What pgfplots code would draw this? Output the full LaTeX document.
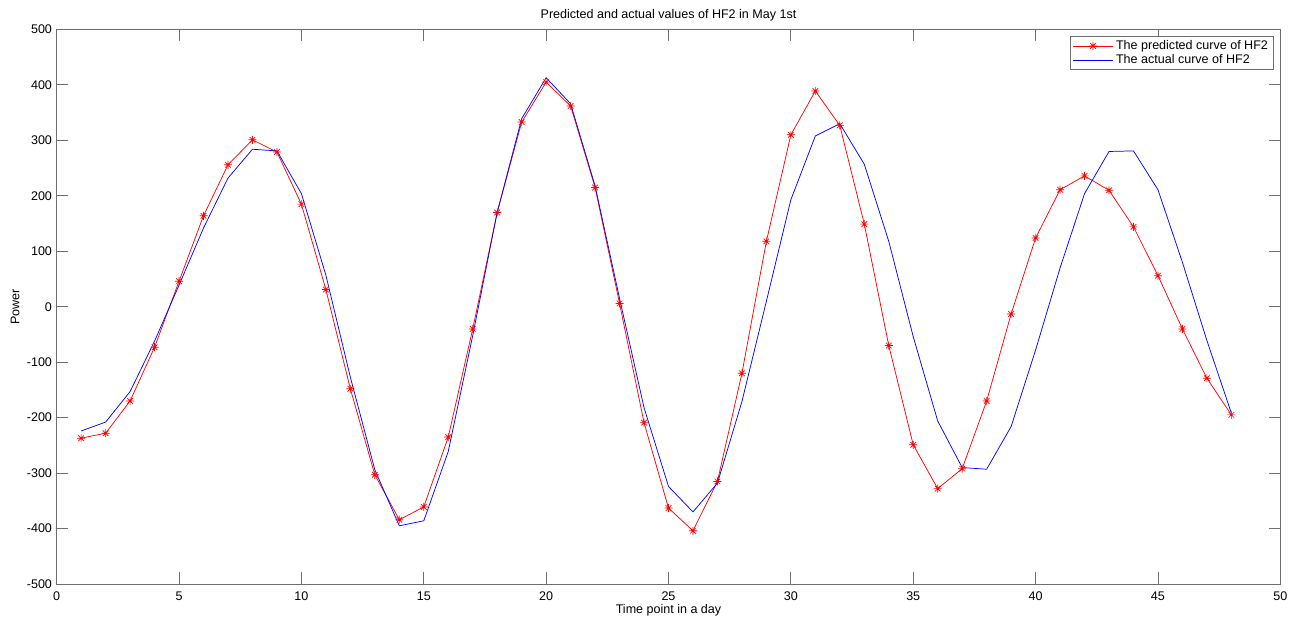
\documentclass[border=0pt]{standalone}
\usepackage{fontspec}
\setmainfont{Liberation Sans}
\usepackage{pgfplots}
\pgfplotsset{compat=1.18}
\definecolor{axgray}{RGB}{110,110,110}
\newcommand{\mfont}{\fontsize{9.4}{11.3}\selectfont}
% MATLAB-like asterisk: a plus and a cross on top of each other
\pgfdeclareplotmark{mstar}{%
  \pgfpathmoveto{\pgfqpoint{-\pgfplotmarksize}{0pt}}\pgfpathlineto{\pgfqpoint{\pgfplotmarksize}{0pt}}%
  \pgfpathmoveto{\pgfqpoint{0pt}{-\pgfplotmarksize}}\pgfpathlineto{\pgfqpoint{0pt}{\pgfplotmarksize}}%
  \pgfpathmoveto{\pgfqpoint{-0.7\pgfplotmarksize}{-0.7\pgfplotmarksize}}\pgfpathlineto{\pgfqpoint{0.7\pgfplotmarksize}{0.7\pgfplotmarksize}}%
  \pgfpathmoveto{\pgfqpoint{-0.7\pgfplotmarksize}{0.7\pgfplotmarksize}}\pgfpathlineto{\pgfqpoint{0.7\pgfplotmarksize}{-0.7\pgfplotmarksize}}%
  \pgfusepathqstroke}
\begin{document}
\begin{tikzpicture}
\useasboundingbox (-42.5pt,-27pt) rectangle (930.2pt,438pt);
\begin{axis}[
  at={(0,0)}, anchor=south west,
  scale only axis,
  width=917.7pt, height=415.9pt,
  xmin=0, xmax=50, ymin=-500, ymax=500,
  xtick={0,5,...,50}, ytick={-500,-400,...,500},
  tick align=inside,
  major tick length=8.8pt,
  axis line style={axgray, line width=0.7pt},
  every tick/.style={axgray, line width=0.7pt},
  /pgf/number format/assume math mode=true,
  tick label style={font=\mfont},
  xticklabel style={yshift=-2pt},
  every axis title shift=0pt,
  title={Predicted and actual values of HF2 in May 1st},
  title style={font=\mfont, at={(axis description cs:0.5,1.026)}, anchor=center},
  xlabel={Time point in a day},
  xlabel style={font=\mfont, at={(axis description cs:0.5,-0.047)}, anchor=center},
  ylabel={Power},
  ylabel style={font=\mfont, at={(axis description cs:-0.034,0.5)}, anchor=center},
  legend style={font=\mfont, at={(axis description cs:1,1)}, anchor=north east,
    xshift=-5pt, yshift=-4.9pt, draw=axgray, line width=0.6pt,
    inner xsep=2pt, inner ysep=1pt, row sep=-1.5pt,
    legend cell align=left},
  legend image code/.code={%
    \draw[mark repeat=2, mark phase=2, #1] plot coordinates {(0pt,0pt) (15pt,0pt) (30pt,0pt)};},
]
\addplot[color=red, line width=0.55pt, mark=mstar, mark size=3pt, mark options={line width=0.5pt}]
  coordinates {
  (1,-237) (2,-228) (3,-170) (4,-73) (5,46) (6,164) (7,256) (8,301) (9,279) (10,185)
  (11,31) (12,-148) (13,-303) (14,-384) (15,-361) (16,-235) (17,-40) (18,170) (19,333) (20,405)
  (21,362) (22,215) (23,6) (24,-209) (25,-363) (26,-404) (27,-315) (28,-120) (29,118) (30,310)
  (31,389) (32,327) (33,149) (34,-70) (35,-249) (36,-328) (37,-292) (38,-170) (39,-13) (40,124)
  (41,211) (42,236) (43,210) (44,144) (45,56) (46,-40) (47,-129) (48,-195)};
\addlegendentry{The predicted curve of HF2}
\addplot[color=blue, line width=0.55pt]
  coordinates {
  (1,-224) (2,-208) (3,-153) (4,-62) (5,39) (6,142) (7,232) (8,284) (9,281) (10,204)
  (11,57) (12,-127) (13,-294) (14,-395) (15,-386) (16,-261) (17,-52) (18,170) (19,339) (20,413)
  (21,366) (22,218) (23,15) (24,-182) (25,-324) (26,-370) (27,-318) (28,-171) (29,10) (30,193)
  (31,308) (32,330) (33,257) (34,118) (35,-54) (36,-206) (37,-290) (38,-293) (39,-216) (40,-78)
  (41,70) (42,204) (43,280) (44,281) (45,211) (46,80) (47,-61) (48,-192)};
\addlegendentry{The actual curve of HF2}
\end{axis}
\end{tikzpicture}
\end{document}
